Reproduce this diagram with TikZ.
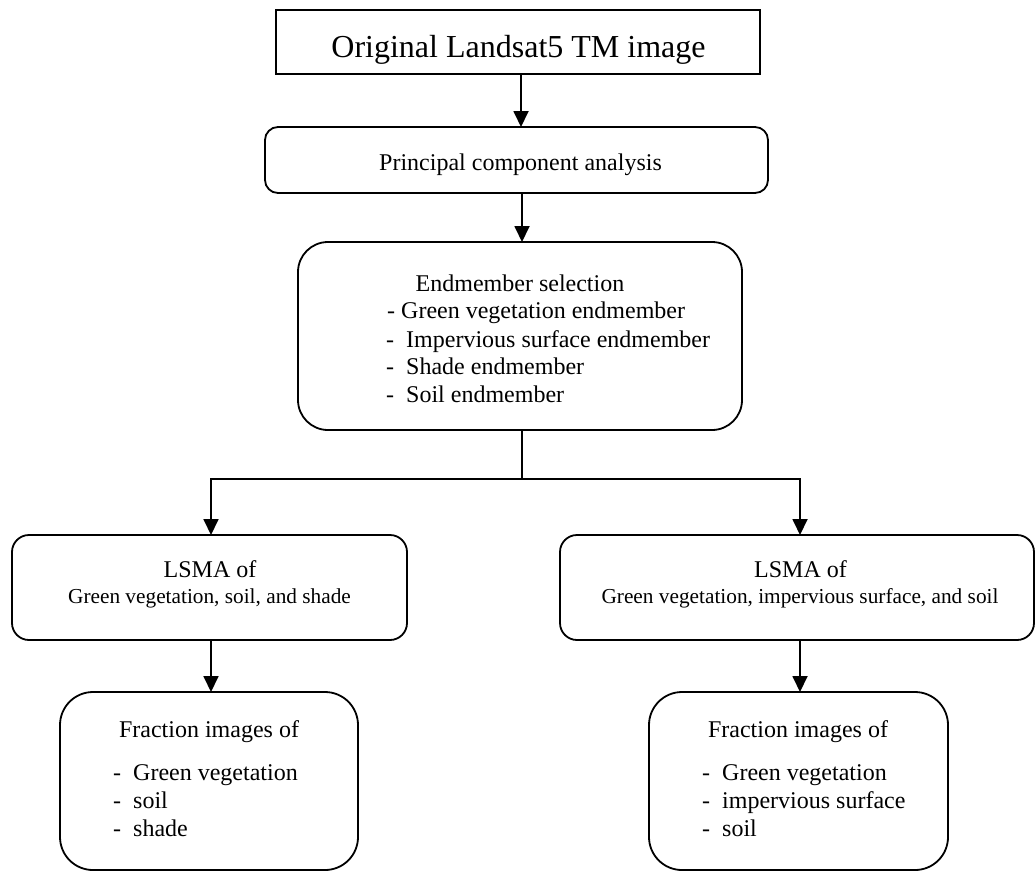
\documentclass[tikz,border=0pt]{standalone}
\usepackage{fontspec}
\setmainfont{Liberation Serif}
\usetikzlibrary{arrows.meta}
\begin{document}
\begin{tikzpicture}[x=1pt,y=-1pt,
  flowbox/.style={draw, line width=1.8pt, inner sep=0pt, outer sep=0pt},
  txt/.style={inner sep=0pt, font=\fontsize{24}{28}\selectfont},
  bigtxt/.style={inner sep=0pt, font=\fontsize{32}{38}\selectfont},
  smalltxt/.style={inner sep=0pt, font=\fontsize{21.3}{25}\selectfont},
  conn/.style={line width=1.8pt},
  arr/.style={line width=1.8pt, -{Triangle[length=16pt,width=15pt]}}]
\useasboundingbox (0,0) rectangle (1035,873);
% boxes
\node[flowbox, minimum width=484pt, minimum height=64pt] (b1) at (518,42) {};
\node[flowbox, rounded corners=13pt, minimum width=503pt, minimum height=66pt] (b2) at (516.5,160) {};
\node[flowbox, rounded corners=30pt, minimum width=444pt, minimum height=188pt] (b3) at (520,336) {};
\node[flowbox, rounded corners=17pt, minimum width=395pt, minimum height=105pt] (b4) at (209.5,587.5) {};
\node[flowbox, rounded corners=17pt, minimum width=474pt, minimum height=105pt] (b5) at (797,587.5) {};
\node[flowbox, rounded corners=33pt, minimum width=298pt, minimum height=178pt] (b6) at (209,781) {};
\node[flowbox, rounded corners=33pt, minimum width=299pt, minimum height=178pt] (b7) at (798.5,781) {};
% texts
\node[bigtxt, anchor=base] (t1) at (518.5,57) {Original Landsat5 TM image};
\node[txt, anchor=base] (t2) at (520.5,170) {Principal component analysis};
\node[txt, anchor=base] (t3) at (520,291) {Endmember selection};
\node[txt, anchor=base west] (t3a) at (387,318) {- Green vegetation endmember};
\node[txt, anchor=base west] (t3b) at (386,347) {-\ \ Impervious surface endmember};
\node[txt, anchor=base west] (t3c) at (386,374) {-\ \ Shade endmember};
\node[txt, anchor=base west] (t3d) at (386,402) {-\ \ Soil endmember};
\node[txt, anchor=base] (t4) at (210,577) {LSMA of};
\node[smalltxt, anchor=base] (t4a) at (209.5,603) {Green vegetation, soil, and shade};
\node[txt, anchor=base] (t5) at (800.5,577) {LSMA of};
\node[smalltxt, anchor=base] (t5a) at (800,603) {Green vegetation, impervious surface, and soil};
\node[txt, anchor=base] (t6) at (209,737) {Fraction images of};
\node[txt, anchor=base west] (t6a) at (113,780) {-\ \ Green vegetation};
\node[txt, anchor=base west] (t6b) at (113,808) {-\ \ soil};
\node[txt, anchor=base west] (t6c) at (113,836) {-\ \ shade};
\node[txt, anchor=base] (t7) at (798,737) {Fraction images of};
\node[txt, anchor=base west] (t7a) at (702,780) {-\ \ Green vegetation};
\node[txt, anchor=base west] (t7b) at (702,808) {-\ \ impervious surface};
\node[txt, anchor=base west] (t7c) at (702,836) {-\ \ soil};
% connectors
\coordinate (ax) at (521,0);
\coordinate (lx) at (211,0);
\coordinate (rx) at (800,0);
\coordinate (split) at (522,479);
\draw[arr] (b1.south -| ax) -- (b2.north -| ax);
\draw[arr] (b2.south -| split) -- (b3.north -| split);
\draw[conn] (b3.south -| split) -- (split);
\draw[arr] (split) -| (b4.north -| lx);
\draw[arr] (split) -| (b5.north -| rx);
\draw[arr] (b4.south -| lx) -- (b6.north -| lx);
\draw[arr] (b5.south -| rx) -- (b7.north -| rx);
\end{tikzpicture}
\end{document}
